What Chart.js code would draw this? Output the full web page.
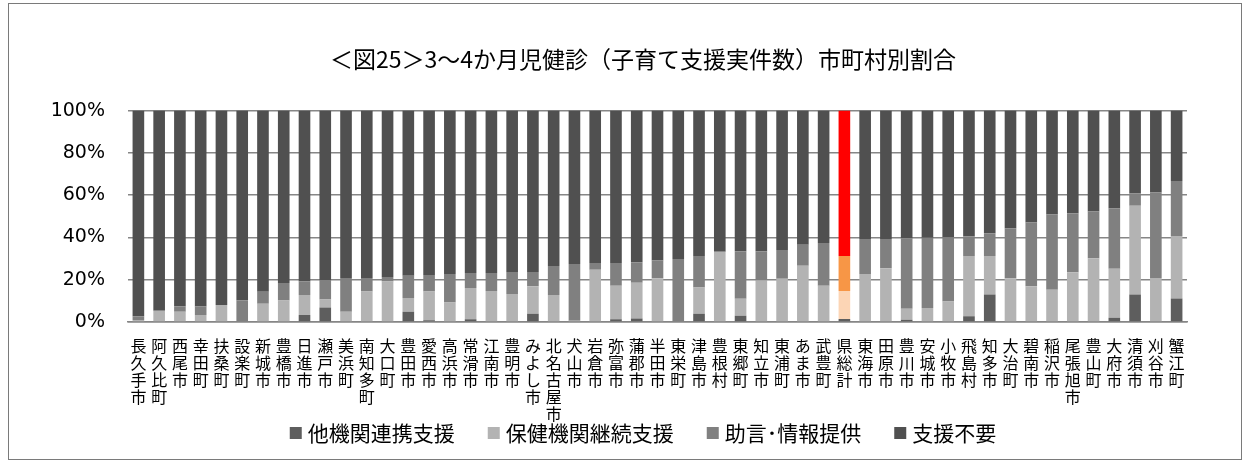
<!DOCTYPE html>
<html>
<head>
<meta charset="utf-8">
<script src="https://cdn.jsdelivr.net/npm/chart.js@4"></script>
<style>
  html, body { margin: 0; padding: 0; background: #fff; }
  #wrap { position: relative; width: 1250px; height: 466px; }
  #frame { position: absolute; left: 8px; top: 3px; width: 1232px; height: 455px; border: 1px solid #7a7a7a; }
  #myChart { position: absolute; left: 0; top: 0; }
</style>
</head>
<body>
<div id="wrap">
  <div id="frame"></div>
  <canvas id="myChart" width="1250" height="466"></canvas>
</div>
<script>
const cities = ['長久手市','阿久比町','西尾市','幸田町','扶桑町','設楽町','新城市','豊橋市','日進市','瀬戸市',
  '美浜町','南知多町','大口町','豊田市','愛西市','高浜市','常滑市','江南市','豊明市','みよし市',
  '北名古屋市','犬山市','岩倉市','弥富市','蒲郡市','半田市','東栄町','津島市','豊根村','東郷町',
  '知立市','東浦町','あま市','武豊町','県総計','東海市','田原市','豊川市','安城市','小牧市',
  '飛島村','知多市','大治町','碧南市','稲沢市','尾張旭市','豊山町','大府市','清須市','刈谷市','蟹江町'];

const seriesNames = ['他機関連携支援', '保健機関継続支援', '助言･情報提供', '支援不要'];

const takikan = [0, 0, 0, 0.3, 0, 0, 0.3, 0, 3.3, 6.9,
  0.3, 0, 0, 4.9, 0.8, 0.4, 1.3, 0, 0, 3.9,
  0, 0, 0, 1.3, 1.7, 0, 0, 3.9, 0, 3.0,
  0, 0, 0, 0, 1.4, 0, 0, 1.1, 0, 0,
  2.7, 13.0, 0, 0, 0, 0, 0, 2.0, 13.0, 0, 11.1];

const hoken = [1.0, 5.3, 4.9, 3.0, 8.1, 0, 8.3, 10.2, 9.5, 3.7,
  4.6, 14.4, 19.1, 6.5, 13.6, 8.8, 14.8, 14.7, 13.2, 13.0,
  12.8, 0.6, 24.7, 15.8, 16.9, 20.7, 0, 12.4, 33.2, 8.0,
  19.6, 20.4, 26.6, 17.1, 13.3, 22.7, 25.4, 5.2, 6.6, 9.7,
  28.5, 18.2, 20.7, 16.9, 15.2, 23.5, 30.2, 23.2, 42.0, 20.8, 29.6];

const jogen = [1.7, 0, 2.5, 4.0, 0, 10.3, 5.7, 8.3, 6.3, 9.3,
  15.9, 6.4, 2.2, 10.5, 7.8, 13.5, 7.1, 8.5, 10.4, 6.7,
  13.7, 26.8, 3.2, 10.8, 9.7, 8.4, 29.8, 14.9, 0, 22.5,
  13.9, 13.6, 10.0, 20.3, 16.5, 16.6, 13.9, 33.3, 33.3, 30.4,
  9.4, 10.8, 23.6, 30.2, 35.7, 27.9, 22.1, 28.5, 5.8, 40.4, 26.0];

const fuyou = [97.3, 94.7, 92.6, 92.7, 91.9, 89.7, 85.7, 81.5, 80.9, 80.1,
  79.2, 79.2, 78.7, 78.1, 77.8, 77.3, 76.8, 76.8, 76.4, 76.4,
  73.5, 72.6, 72.1, 72.1, 71.7, 70.9, 70.2, 68.8, 66.8, 66.5,
  66.5, 66.0, 63.4, 62.6, 68.8, 60.7, 60.7, 60.4, 60.1, 59.9,
  59.4, 58.0, 55.7, 52.9, 49.1, 48.6, 47.7, 46.3, 39.2, 38.8, 33.3];

const yTicks = ['0%', '20%', '40%', '60%', '80%', '100%'];

const grayColors = ['#5e5e5e', '#b3b3b3', '#808080', '#505050'];
const totalColors = ['#5e5e5e', '#fcd5b5', '#f79646', '#ff0000'];
const totalIndex = cities.indexOf('県総計');

function barColor(i) {
  return ctx => (ctx.dataIndex === totalIndex ? totalColors[i] : grayColors[i]);
}

const allData = [takikan, hoken, jogen, fuyou];

// legend drawn by hand so the gaps match the original
const bottomLegend = {
  id: 'bottomLegend',
  afterDraw(chart) {
    const c = chart.ctx;
    c.save();
    c.font = '21px "Noto Sans CJK JP"';
    c.textBaseline = 'middle';
    const box = 12, gapText = 6, gapItem = 33;
    const widths = seriesNames.map(n => c.measureText(n).width);
    const total = widths.reduce((a, w) => a + box + gapText + w, 0) + gapItem * (seriesNames.length - 1);
    let x = 643 - total / 2;
    const y = 433;
    seriesNames.forEach((n, i) => {
      c.fillStyle = grayColors[i];
      c.fillRect(x, y - box / 2, box, box);
      c.fillStyle = '#000';
      c.fillText(n, x + box + gapText, y);
      x += box + gapText + widths[i] + gapItem;
    });
    c.restore();
  }
};

const ctx = document.getElementById('myChart');

new Chart(ctx, {
  type: 'bar',
  data: {
    labels: cities.map(c => c.split('')),
    datasets: allData.map((d, i) => ({
      label: seriesNames[i],
      data: d,
      backgroundColor: barColor(i),
      borderWidth: 0,
      categoryPercentage: 1,
      barPercentage: 0.56
    }))
  },
  options: {
    responsive: false,
    animation: false,
    layout: { padding: { left: 36, right: 0, top: 0, bottom: 44 } },
    plugins: {
      title: {
        display: true,
        text: '＜図25＞3～4か月児健診（子育て支援実件数）市町村別割合',
        color: '#000',
        font: { family: '"Noto Sans CJK JP"', size: 23, weight: 'normal' },
        padding: { top: 45, bottom: 38 }
      },
      legend: { display: false },
      tooltip: { enabled: false }
    },
    scales: {
      x: {
        stacked: true,
        grid: { display: false, drawTicks: false },
        border: { display: true, color: '#868686', width: 1.5 },
        ticks: {
          color: '#000',
          font: { family: '"Noto Sans CJK JP"', size: 16, lineHeight: 1.05 },
          padding: 16,
          maxRotation: 0,
          autoSkip: false
        },
        afterFit: s => { s.height = 100; }
      },
      y: {
        stacked: true,
        min: 0,
        max: 100,
        grid: { color: '#868686', lineWidth: 1.5, drawTicks: false },
        border: { display: false },
        ticks: {
          stepSize: 20,
          color: '#000',
          font: { family: '"DejaVu Sans"', size: 19 },
          padding: 23,
          callback: (v, i) => yTicks[i]
        },
        afterFit: s => { s.width = 92; }
      },
      yRight: {
        position: 'right',
        min: 0,
        max: 100,
        grid: { display: false, drawTicks: false },
        border: { display: false },
        ticks: { display: false },
        afterFit: s => { s.width = 63; }
      }
    }
  },
  plugins: [bottomLegend]
});
</script>
</body>
</html>
